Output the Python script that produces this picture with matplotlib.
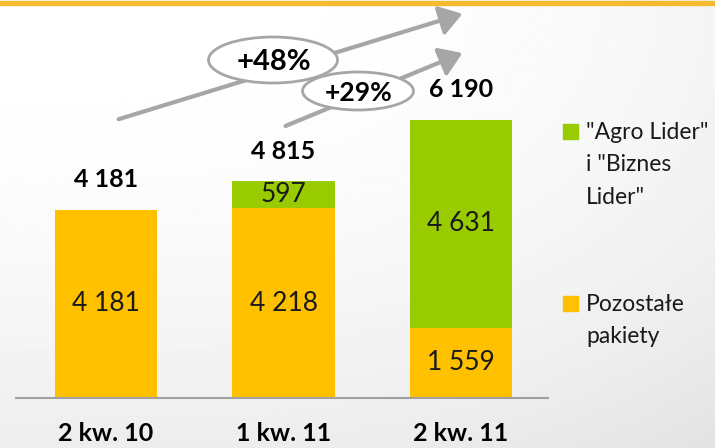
import numpy as np
import matplotlib.pyplot as plt
from matplotlib.transforms import ScaledTranslation
from matplotlib.patches import Ellipse, Rectangle, FancyArrowPatch

plt.rcParams['font.family'] = ['Lato', 'DejaVu Sans']

# data
categories = ['2 kw. 10', '1 kw. 11', '2 kw. 11']
pozostale = [4181, 4218, 1559]
agro_biznes = [0, 597, 4631]
totals = [4181, 4815, 6190]
growth_labels = ['+48%', '+29%']
legend_labels = [['"Agro Lider"', 'i "Biznes', 'Lider"'], ['Pozostałe', 'pakiety']]

ORANGE = '#FFC000'
GREEN = '#99CC00'
GRAY = '#A6A6A6'

W, H = 715, 448
fig = plt.figure(figsize=(W / 100, H / 100), dpi=100)


def px(x, y):
    # pixel position (from top left) -> figure fraction
    return x / W, 1 - y / H


def fmt(v):
    return f'{v:,}'.replace(',', ' ')


# light background gradient
bg = fig.add_axes([0, 0, 1, 1], zorder=-10)
yy = np.linspace(0, 1, 200)[:, None]
xx = np.linspace(0, 1, 200)[None, :]
grad = 1 - 0.07 * yy ** 2 - 0.04 * xx ** 3
bg.imshow(grad, cmap='gray', vmin=0, vmax=1, aspect='auto', extent=[0, 1, 0, 1])
bg.axis('off')

# yellow stripe on top
fig.patches.append(Rectangle(px(0, 5), 1, 4 / H, transform=fig.transFigure,
                             color='#F5BA30', zorder=5))

ax = fig.add_axes([16 / W, 50 / H, 532 / W, 398 / H])
ax.patch.set_alpha(0)
x = np.arange(len(categories))
bw = 0.575
ax.bar(x, pozostale, bw, color=ORANGE)
ax.bar(x, agro_biznes, bw, bottom=pozostale, color=GREEN)
ax.set_xlim(-0.507, 2.49)
ax.set_ylim(0, 8851)

above = ax.transData + ScaledTranslation(0, 0.30, fig.dpi_scale_trans)
for i in range(len(categories)):
    ax.text(x[i], pozostale[i] / 2, fmt(pozostale[i]),
            ha='center', va='center', fontsize=19, color='#1a1a1a')
    if agro_biznes[i] > 0:
        ax.text(x[i], pozostale[i] + agro_biznes[i] / 2, fmt(agro_biznes[i]),
                ha='center', va='center', fontsize=19, color='#1a1a1a')
    ax.text(x[i], totals[i], fmt(totals[i]), ha='center', va='center',
            fontsize=18, fontweight='bold', transform=above)

for s in ['top', 'right', 'left']:
    ax.spines[s].set_visible(False)
ax.spines['bottom'].set_color('#A0A0A0')
ax.spines['bottom'].set_linewidth(1.5)
ax.set_yticks([])
ax.set_xticks(x)
ax.set_xticklabels(categories, fontsize=18, fontweight='bold')
ax.tick_params(axis='x', length=0, pad=17)

# growth arrows
arrows = [((116, 120), (465, 13)), ((283, 127), (465, 52))]
for (a, b) in arrows:
    fig.patches.append(FancyArrowPatch(px(*a), px(*b), transform=fig.transFigure,
                                       arrowstyle='-|>,head_length=0.9,head_width=0.6',
                                       mutation_scale=15, color=GRAY, lw=3, zorder=6))

ellipses = [((273, 60), 129, 46, 21), ((358, 91), 111, 38, 19)]
for (c, w, h, fs), lab in zip(ellipses, growth_labels):
    fig.patches.append(Ellipse(px(*c), w / W, h / H, transform=fig.transFigure,
                               facecolor='white', edgecolor=GRAY, lw=2, zorder=7))
    fig.text(*px(c[0] + 1, c[1] + 2), lab, ha='center', va='center', fontsize=fs,
             fontweight='bold', zorder=8)

# legend
legend_colors = [GREEN, ORANGE]
legend_tops = [132, 304]
for col, lines, y0 in zip(legend_colors, legend_labels, legend_tops):
    fig.patches.append(Rectangle(px(563, y0 + 7), 15 / W, 15 / H, transform=fig.transFigure,
                                 color=col, zorder=5))
    for k, line in enumerate(lines):
        fig.text(*px(586, y0 + k * 32.5), line, ha='left', va='center', fontsize=16.5,
                 color='#1a1a1a')

fig.savefig('out.png', dpi=100)
